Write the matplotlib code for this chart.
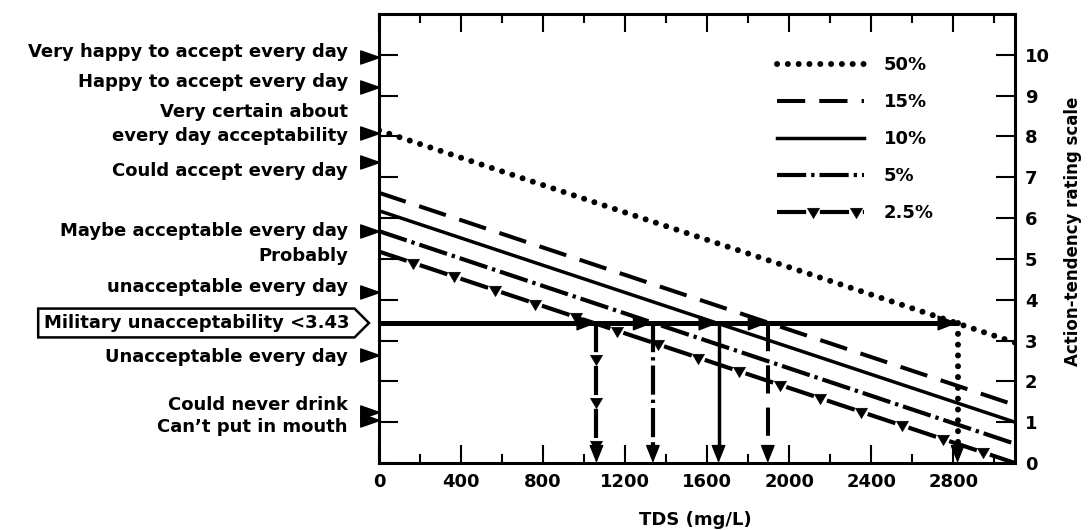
import numpy as np
import matplotlib
matplotlib.use("Agg")
import matplotlib.pyplot as plt
from matplotlib.path import Path
from matplotlib import patheffects
from matplotlib.ticker import MultipleLocator
from matplotlib.transforms import IdentityTransform, Affine2D

plt.rcParams['font.family'] = ['DejaVu Sans']
plt.rcParams['font.weight'] = 'bold'

# rating lines: value at each end of the TDS range
tds_ends = [0, 3100]
series_names = ["50%", "15%", "10%", "5%", "2.5%"]
rating_start = [8.15, 6.62, 6.18, 5.68, 5.18]
rating_end = [2.95, 1.42, 1.0, 0.47, 0.0]

# TDS where each line crosses the military limit
military_limit = 3.43
tds_cross = [2820, 1895, 1655, 1335, 1060]

# left hand verbal scale
arrow_levels = [9.95, 9.2, 8.08, 7.37, 5.68, 4.2, 2.65, 1.25, 1.06]
scale_labels = ["Very happy to accept every day", "Happy to accept every day",
                "Very certain about", "every day acceptability",
                "Could accept every day", "Maybe acceptable every day",
                "Probably", "unacceptable every day",
                "Unacceptable every day", "Could never drink",
                "Can\u2019t put in mouth"]
label_y = [10.07, 9.34, 8.6, 8.01, 7.15, 5.68, 5.06, 4.32, 2.6, 1.43, 0.88]

x_ticks = [0, 400, 800, 1200, 1600, 2000, 2400, 2800]
rating_ticks = list(range(11))


class Triangles(patheffects.AbstractPathEffect):
    # little down triangles sitting in the gaps of a dashed line
    def __init__(self, first, period, size):
        super().__init__()
        self.first = first
        self.period = period
        self.size = size

    def draw_path(self, renderer, gc, tpath, affine, rgbFace=None):
        renderer.draw_path(gc, tpath, affine, rgbFace)
        pts = affine.transform(tpath.vertices)
        seg = np.hypot(*np.diff(pts, axis=0).T)
        cum = np.concatenate([[0], np.cumsum(seg)])
        d = np.arange(self.first, cum[-1], self.period)
        if len(d) == 0:
            return
        xs = np.interp(d, cum, pts[:, 0])
        ys = np.interp(d, cum, pts[:, 1])
        gc0 = renderer.new_gc()
        gc0.copy_properties(gc)
        gc0.set_dashes(0, None)
        gc0.set_linewidth(0.5)
        tri = Path([(-1, 0.7), (1, 0.7), (0, -1), (-1, 0.7)], closed=True)
        renderer.draw_markers(gc0, tri, Affine2D().scale(self.size),
                              Path(np.column_stack([xs, ys])), IdentityTransform(),
                              gc.get_rgb())
        gc0.restore()


def tag_box(x0, y0, width, height, mutation_size):
    pad = 0.3 * mutation_size
    x0 -= pad
    y0 -= pad
    w = width + 2 * pad
    h = height + 2 * pad
    tip = h * 0.5
    return Path([(x0, y0), (x0 + w, y0), (x0 + w + tip, y0 + h / 2),
                 (x0 + w, y0 + h), (x0, y0 + h), (x0, y0)], closed=True)


px = 100 / 72.0
styles = [
    dict(ls=(0, (0.01, 1.8)), lw=4.3, dash_capstyle='round'),
    dict(ls=(0, (7, 3.5)), lw=2.9),
    dict(ls='-', lw=2.5),
    dict(ls=(0, (7, 1.2, 0.8, 1.2)), lw=3.0),
    dict(ls=(0, (7, 3.3)), lw=3.0,
         path_effects=[Triangles(8.65 * 3.0 * px, 10.3 * 3.0 * px, 6)]),
]

fig = plt.figure(figsize=(10.88, 5.30), dpi=100)
ax = fig.add_axes([379 / 1088, 1 - 463 / 530, 636 / 1088, 449 / 530])

handles = []
for name, r0, r1, st in zip(series_names, rating_start, rating_end, styles):
    ln, = ax.plot(tds_ends, [r0, r1], color='black', label=name, **st)
    handles.append(ln)

# horizontal military limit line
ax.plot([0, max(tds_cross)], [military_limit, military_limit], color='black', lw=3.6,
        solid_capstyle='butt')

for xc, st in zip(tds_cross, styles):
    ax.plot([xc, xc], [military_limit, 0.4], color='black', **st)
    ax.annotate('', xy=(xc, 0), xytext=(xc, 0.42),
                arrowprops=dict(arrowstyle='-|>,head_length=0.8,head_width=0.32',
                                mutation_scale=14, color='black', lw=1,
                                shrinkA=0, shrinkB=0))
    ax.annotate('', xy=(xc, military_limit), xytext=(xc - 110, military_limit),
                arrowprops=dict(arrowstyle='-|>,head_length=0.9,head_width=0.35',
                                mutation_scale=14, color='black', lw=1,
                                shrinkA=0, shrinkB=0))

ax.set_xlim(0, 3100)
ax.set_ylim(0, 11.0)

ax.set_xticks(x_ticks)
ax.xaxis.set_minor_locator(MultipleLocator(200))
ax.set_yticks(rating_ticks)
ax.tick_params(axis='x', which='both', direction='in', top=True, bottom=True,
               labelsize=13, pad=7, width=1.5)
ax.tick_params(axis='x', which='major', length=13)
ax.tick_params(axis='x', which='minor', length=6.5)
ax.tick_params(axis='y', which='both', direction='in', left=True, right=True,
               labelleft=False, labelright=True, length=14, width=1.5,
               labelsize=13, pad=7)
for s in ax.spines.values():
    s.set_linewidth(2.2)

ax.set_xlabel('TDS (mg/L)', fontsize=13, fontweight='bold')
ax.xaxis.set_label_coords(0.497, -0.108)
ax.text(1.091, 0.517, 'Action-tendency rating scale', transform=ax.transAxes,
        rotation=90, ha='center', va='center', fontsize=12, fontweight='bold')

# verbal scale on the left
ytr = ax.get_yaxis_transform()
tri_marker = [(0, 0), (-2, 0.7), (-2, -0.7), (0, 0)]
ax.plot(np.zeros(len(arrow_levels)), arrow_levels, transform=ytr, ls='none',
        marker=tri_marker, ms=27, color='black', clip_on=False)
for lab, yy in zip(scale_labels, label_y):
    ax.text(-0.049, yy, lab, transform=ytr, ha='right', va='center',
            fontsize=13, fontweight='bold')

ax.text(-0.047, military_limit, 'Military unacceptability <3.43', transform=ytr,
        ha='right', va='center', fontsize=13, fontweight='bold',
        bbox=dict(boxstyle=tag_box, fc='white', ec='black', lw=1.8))

ax.legend(handles=handles, loc='upper left', bbox_to_anchor=(0.626, 0.906),
          frameon=False, handlelength=4.8, handletextpad=1.1, labelspacing=1.05,
          borderpad=0, borderaxespad=0, prop=dict(size=13, weight='bold'))

fig.savefig('out.png', dpi=100)
